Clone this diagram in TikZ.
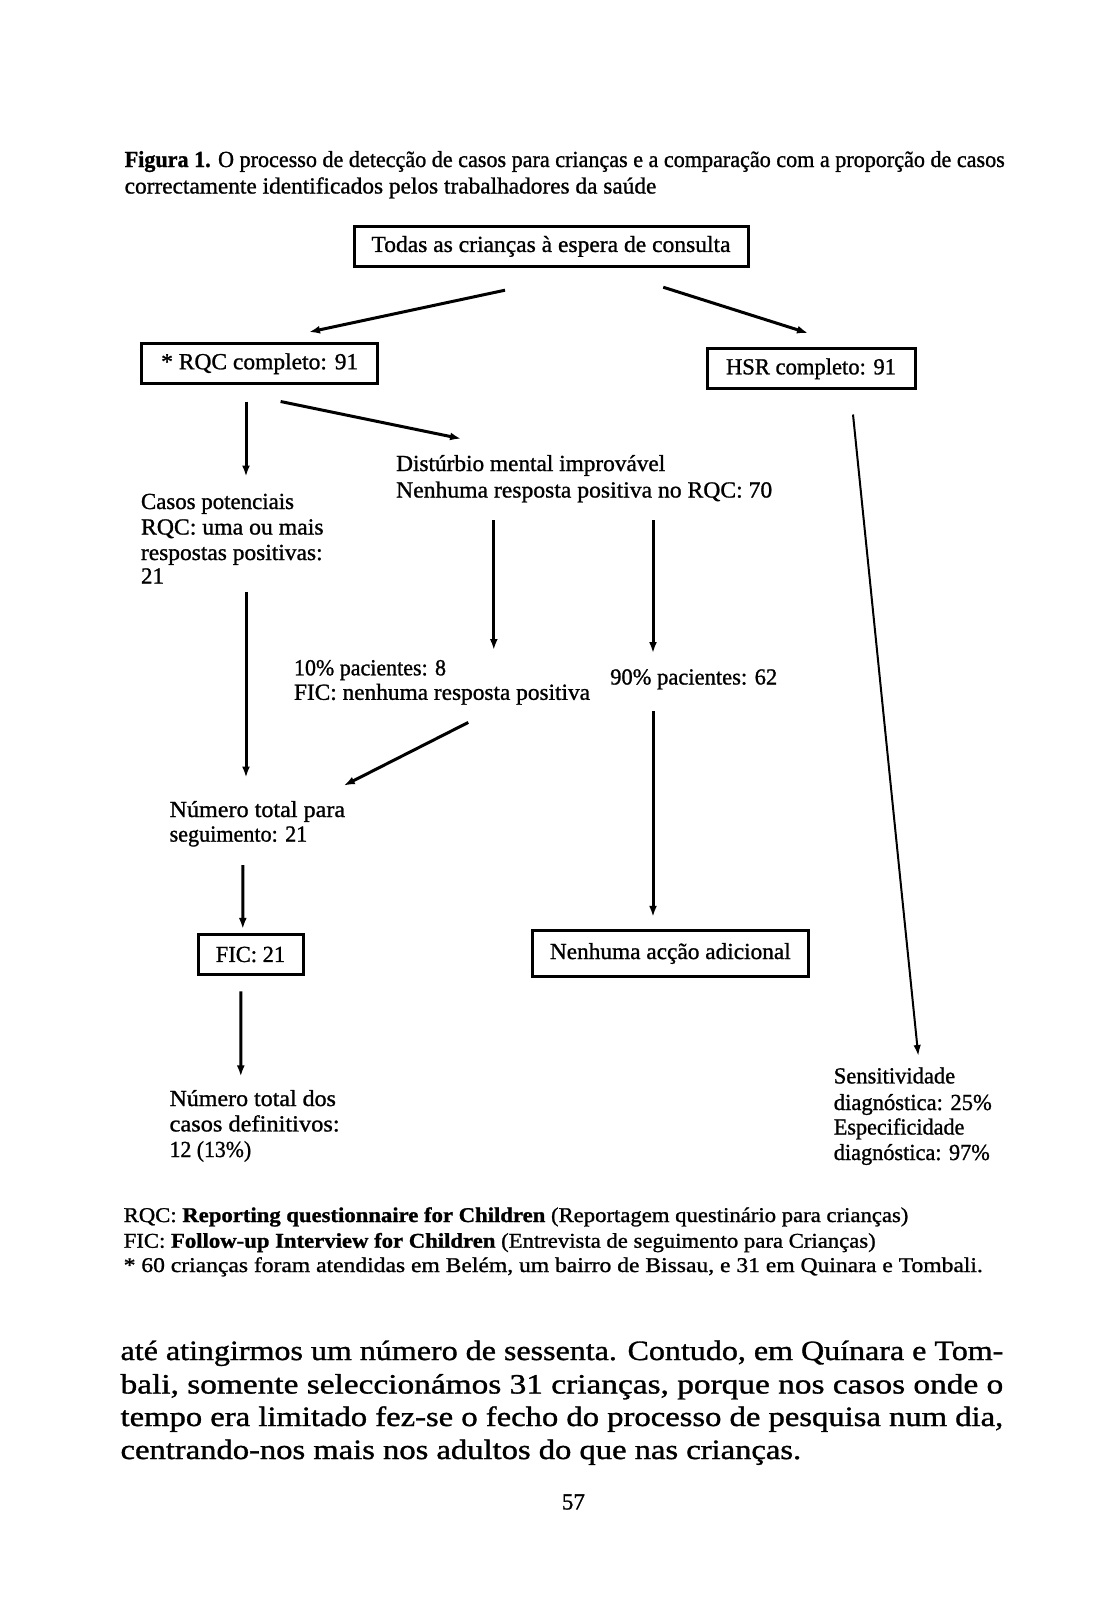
\documentclass[tikz,border=0pt]{standalone}
\usepackage{fontspec}
\setmainfont{Liberation Serif}[FakeBold=1.1]
\usetikzlibrary{calc,arrows.meta}
\newcommand\fw[2]{\resizebox{#1pt}{\height}{#2}}
\newcommand\dfont{\fontsize{23}{26}\selectfont}
\newcommand\ffont{\fontsize{21}{24}\selectfont}
\newcommand\bfont{\fontsize{28}{32}\selectfont}
\begin{document}
\begin{tikzpicture}[x=1pt,y=-1pt,
  box/.style={draw, line width=3pt, inner sep=0pt, font=\dfont},
  txt/.style={inner sep=0pt, anchor=base west, font=\dfont},
  ftxt/.style={inner sep=0pt, anchor=base west, font=\ffont},
  btxt/.style={inner sep=0pt, anchor=base west, font=\bfont},
  arr/.style={-{Latex[length=11pt,width=8pt]}, line width=3pt},
  thinarr/.style={-{Latex[length=11pt,width=7.5pt]}, line width=2pt}]
\useasboundingbox (0,0) rectangle (1109,1600);
\fill[white] (0,0) rectangle (1109,1600);

% caption
\node[txt] (cap1) at (124.5,167) {\fw{880}{\textbf{Figura 1.} O processo de detecção de casos para crianças e a comparação com a proporção de casos}};
\node[txt] (cap2) at (124.5,193.5) {\fw{531.6}{correctamente identificados pelos trabalhadores da saúde}};

% boxes
\node[box, minimum width=394pt, minimum height=40pt] (top) at (551,246.4) {\fw{359}{Todas as crianças à espera de consulta}};
\node[box, minimum width=235.7pt, minimum height=39.8pt] (rqc) at (259.7,363.7) {\fw{197}{* RQC completo: 91}\hspace{8pt}};
\node[box, minimum width=208pt, minimum height=39.8pt] (hsr) at (811,368.8) {\fw{170}{HSR completo: 91}};
\node[box, minimum width=105pt, minimum height=40pt] (fic) at (250.5,954.5) {\fw{69.4}{FIC: 21}};
\node[box, minimum width=275.5pt, minimum height=46pt] (nen) at (670.3,953.5) {\fw{240.8}{Nenhuma acção adicional}};

% text blocks
\node[txt] (dist1) at (396,471) {\fw{269}{Distúrbio mental improvável}};
\node[txt] (dist2) at (396,497.5) {\fw{376}{Nenhuma resposta positiva no RQC: 70}};

\node[txt] (casos1) at (140.8,509) {\fw{153}{Casos potenciais}};
\node[txt] (casos2) at (140.8,534.5) {\fw{182.6}{RQC: uma ou mais}};
\node[txt] (casos3) at (140.8,560) {\fw{181.6}{respostas positivas:}};
\node[txt] (casos4) at (140.8,583.5) {21};

\node[txt] (p10a) at (293.8,675.3) {\fw{152}{10\% pacientes: 8}};
\node[txt] (p10b) at (293.8,699.8) {\fw{296}{FIC: nenhuma resposta positiva}};
\node[txt] (p90) at (610,684.5) {\fw{167}{90\% pacientes: 62}};

\node[txt] (num1) at (169.4,817) {\fw{175.5}{Número total para}};
\node[txt] (num2) at (169.4,841.6) {\fw{137.7}{seguimento: 21}};

\node[txt] (nd1) at (169.4,1106) {\fw{166.3}{Número total dos}};
\node[txt] (nd2) at (169.4,1131.4) {\fw{170}{casos definitivos:}};
\node[txt] (nd3) at (169.4,1157) {\fw{81.6}{12 (13\%)}};

\node[txt] (sen1) at (833.6,1083.4) {\fw{121.4}{Sensitividade}};
\node[txt] (sen2) at (833.6,1110) {\fw{158}{diagnóstica: 25\%}};
\node[txt] (sen3) at (833.6,1134.5) {\fw{130.6}{Especificidade}};
\node[txt] (sen4) at (833.6,1160) {\fw{156}{diagnóstica: 97\%}};

% footnotes
\node[ftxt] (fn1) at (123.5,1222) {\fw{784.6}{RQC: \textbf{Reporting questionnaire for Children} (Reportagem questinário para crianças)}};
\node[ftxt] (fn2) at (123.5,1247.7) {\fw{752}{FIC: \textbf{Follow-up Interview for Children} (Entrevista de seguimento para Crianças)}};
\node[ftxt] (fn3) at (123.5,1272) {\fw{859}{* 60 crianças foram atendidas em Belém, um bairro de Bissau, e 31 em Quinara e Tombali.}};

% body text
\node[btxt] (b1) at (120.4,1360) {\fw{882.6}{até atingirmos um número de sessenta. Contudo, em Quínara e Tom-}};
\node[btxt] (b2) at (120.4,1393.5) {\fw{882.6}{bali, somente seleccionámos 31 crianças, porque nos casos onde o}};
\node[btxt] (b3) at (120.4,1426) {\fw{882.6}{tempo era limitado fez-se o fecho do processo de pesquisa num dia,}};
\node[btxt] (b4) at (120.4,1459) {\fw{680.5}{centrando-nos mais nos adultos do que nas crianças.}};
\node[inner sep=0pt, font=\dfont] (page) at (573.4,1502) {57};

% connectors
\draw[arr] ($(top.south)+(-46,22.3)$) -- ($(rqc.north)+(49.3,-10.2)$);
\draw[arr] ($(top.south)+(112.2,19.3)$) -- ($(hsr.north)+(-3,-14.3)$);
\draw[arr] ($(rqc.south)+(-13.7,16.4)$) -- ($(casos1.base west)+(105.2,-32.5)$);
\draw[arr] ($(rqc.south)+(20.9,16.4)$) -- ($(dist1.base west)+(65,-32.3)$);
\draw[arr] ($(dist2.base west)+(97.8,22.9)$) -- ($(p10a.base west)+(200,-25.3)$);
\draw[arr] ($(dist2.base west)+(257,22.9)$) -- ($(p90.base west)+(43,-31.5)$);
\draw[arr] ($(casos4.base west)+(105.2,8.3)$) -- ($(num1.base west)+(76.6,-39.5)$);
\draw[arr] ($(p10b.base west)+(174.5,22.6)$) -- ($(num1.base west)+(174.4,-31.4)$);
\draw[arr] ($(p90.base west)+(43,26.5)$) -- ($(nen.north)+(-17.3,-12.2)$);
\draw[arr] ($(num2.base west)+(73.4,23.4)$) -- ($(fic.north)+(-7.7,-4.1)$);
\draw[arr] ($(fic.south)+(-9.7,15.3)$) -- ($(nd1.base west)+(71.4,-29.6)$);
\draw[thinarr] ($(hsr.south)+(42,24.3)$) -- ($(sen1.base west)+(84.7,-27.4)$);
\end{tikzpicture}
\end{document}
